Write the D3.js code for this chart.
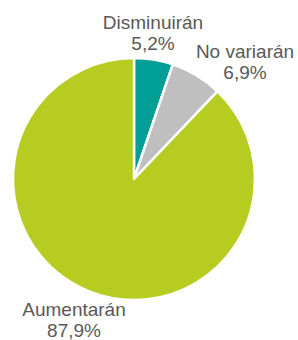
<!DOCTYPE html>
<html><head><meta charset="utf-8">
<script src="https://cdn.jsdelivr.net/npm/d3@7"></script>
<style>body{margin:0;background:#fff}svg{display:block}</style>
</head><body>
<script>
const categories = ["Disminuirán", "No variarán", "Aumentarán"];
const values = [5.2, 6.9, 87.9];
const valueLabels = ["5,2%", "6,9%", "87,9%"];
const colors = ["#009E94", "#BFBFBF", "#B6CC20"];

const W = 298, H = 340, cx = 134, cy = 179, R = 121;
const svg = d3.select("body").append("svg").attr("width", W).attr("height", H);
const g = svg.append("g").attr("transform", `translate(${cx},${cy})`);
const pie = d3.pie().sort(null).value(d => d)(values);
const arc = d3.arc().innerRadius(0).outerRadius(R);
g.selectAll("path").data(pie).enter().append("path")
  .attr("d", arc).attr("fill", (d, i) => colors[i])
  .attr("stroke", "#fff").attr("stroke-width", 2.5).attr("stroke-linejoin", "round");

// label positions (absolute)
const labelPos = [[153, 29], [245, 58], [74, 316]];
const lab = svg.selectAll("text.l").data(categories).enter().append("text")
  .attr("class", "l")
  .attr("text-anchor", "middle")
  .attr("font-family", "Liberation Sans, Arial, sans-serif")
  .attr("font-size", 19).attr("fill", "#595959")
  .attr("transform", (d, i) => `translate(${labelPos[i][0]},${labelPos[i][1]})`);
lab.append("tspan").attr("x", 0).attr("y", 0).text(d => d);
lab.append("tspan").attr("x", 0).attr("y", 21).text((d, i) => valueLabels[i]);
</script>
</body></html>
